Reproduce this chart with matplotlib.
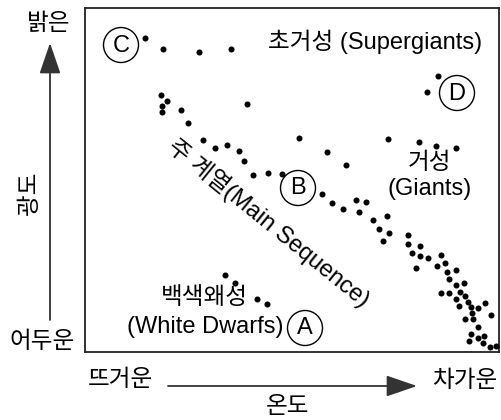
import matplotlib
matplotlib.use("Agg")
import matplotlib.pyplot as plt
from matplotlib.patches import Circle, FancyArrowPatch

plt.rcParams['font.family'] = ['Liberation Sans', 'Noto Sans CJK KR']

W, H = 501, 420

# star positions (schematic units: x = column from hot side, y = row from bright top)
supergiant_x = [145, 163, 199, 231]
supergiant_y = [38, 49, 52, 49]

giant_x = [247, 299, 327, 346, 388, 419, 436, 456, 427, 438]
giant_y = [104, 138, 152, 165, 139, 142, 146, 148, 92, 76]

main_x = [161, 167, 162, 162, 181, 188, 203, 215, 227, 239, 244, 253, 268, 282,
          322, 332, 343, 356, 366, 359, 387, 373, 379, 389, 383,
          408, 408, 420, 412, 420, 428, 416, 441, 437, 445, 447, 456, 449, 456, 464,
          441, 449, 460, 456, 465, 468, 459, 471, 478, 485, 472, 465, 491, 473, 478,
          471, 478, 484, 469, 483, 490, 496]
main_y = [95, 101, 106, 112, 110, 123, 140, 148, 145, 151, 161, 175, 173, 174,
          194, 203, 209, 200, 202, 212, 216, 220, 229, 233, 241,
          235, 244, 246, 253, 256, 258, 268, 255, 266, 263, 272, 270, 279, 285, 283,
          293, 293, 292, 299, 296, 302, 306, 307, 308, 303, 313, 319, 315, 319, 327,
          334, 338, 336, 341, 343, 347, 346]

dwarf_x = [225, 235, 257, 267]
dwarf_y = [275, 283, 299, 304]

region_letters = ['A', 'B', 'C', 'D']
region_cx = [305, 298, 121, 457]
region_cy = [328, 188, 45, 93]

fig = plt.figure(figsize=(W / 100, H / 100), dpi=100)
L, T, R, B = 85, 8, 499, 352
ax = fig.add_axes([L / W, 1 - B / H, (R - L) / W, (B - T) / H])
ax.set_xlim(L, R)
ax.set_ylim(B, T)
ax.set_xticks([])
ax.set_yticks([])
for s in ax.spines.values():
    s.set_linewidth(1.3)
    s.set_color('#222222')

xs = supergiant_x + giant_x + main_x + dwarf_x
ys = supergiant_y + giant_y + main_y + dwarf_y
ax.scatter(xs, ys, s=19, color='black', linewidths=0, zorder=3)

fs = 17
for lt, cx, cy in zip(region_letters, region_cx, region_cy):
    ax.add_patch(Circle((cx, cy), 17.5, fill=False, lw=1.0, ec='black', clip_on=False))
    ax.text(cx, cy + 0.5, lt, ha='center', va='center', fontsize=fs)

ax.text(375, 42, '초거성 (Supergiants)', ha='center', va='center', fontsize=fs)
ax.text(430, 163, '거성', ha='center', va='center', fontsize=fs)
ax.text(430, 189, '(Giants)', ha='center', va='center', fontsize=fs)
ax.text(204, 298, '백색왜성', ha='center', va='center', fontsize=fs)
ax.text(205, 327, '(White Dwarfs)', ha='center', va='center', fontsize=fs)
ax.text(269, 223, '주 계열(Main Sequence)', ha='center', va='center', fontsize=fs,
        rotation=-39, rotation_mode='anchor')

def ft(x, y, s, **kw):
    fig.text(x / W, 1 - y / H, s, ha='center', va='center', fontsize=fs, **kw)

ft(49, 24, '밝은')
ft(42, 342, '어두운')
ft(30, 193, '광도', rotation=90)
ft(120, 380, '뜨거운')
ft(465, 381, '차가운')
ft(288, 407, '온도')

def farrow(x0, y0, x1, y1):
    a = FancyArrowPatch((x0 / W, 1 - y0 / H), (x1 / W, 1 - y1 / H),
                        transform=fig.transFigure, arrowstyle='-|>,head_length=1.6,head_width=0.55',
                        mutation_scale=12, lw=1.3, color='#333333', shrinkA=0, shrinkB=0)
    fig.add_artist(a)

farrow(50, 320, 50, 43)
farrow(168, 386, 417, 386)

fig.savefig('out.png', dpi=100)
